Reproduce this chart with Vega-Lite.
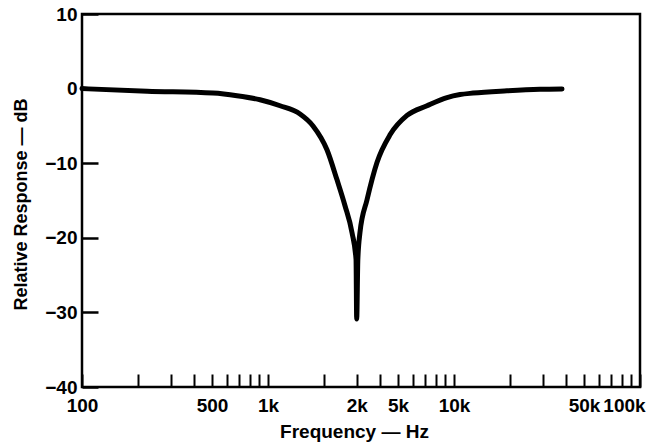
{
  "$schema": "https://vega.github.io/schema/vega-lite/v6.json",
  "width": 558,
  "height": 373,
  "autosize": {"type": "none"},
  "padding": {"left": 82, "top": 14, "right": 23, "bottom": 56},
  "background": "white",
  "config": {
    "view": {"stroke": "black", "strokeWidth": 2.5},
    "axis": {
      "grid": false,
      "domain": false,
      "labelFont": "Liberation Sans",
      "titleFont": "Liberation Sans",
      "labelFontWeight": "bold",
      "titleFontWeight": "bold",
      "labelColor": "black",
      "titleColor": "black",
      "tickColor": "black",
      "labelFontSize": 19,
      "titleFontSize": 18
    }
  },
  "data": {
    "values": [
      {"frequency": 100, "dB": 0.0},
      {"frequency": 224, "dB": -0.35},
      {"frequency": 506, "dB": -0.6},
      {"frequency": 681, "dB": -0.95},
      {"frequency": 906, "dB": -1.5},
      {"frequency": 1161, "dB": -2.3},
      {"frequency": 1486, "dB": -3.4},
      {"frequency": 1746, "dB": -5.0},
      {"frequency": 2075, "dB": -8.2},
      {"frequency": 2348, "dB": -12.2},
      {"frequency": 2594, "dB": -15.7},
      {"frequency": 2829, "dB": -19.3},
      {"frequency": 2974, "dB": -22.9},
      {"frequency": 2998, "dB": -30.9},
      {"frequency": 3040, "dB": -23.0},
      {"frequency": 3122, "dB": -19.3},
      {"frequency": 3407, "dB": -14.9},
      {"frequency": 3854, "dB": -9.9},
      {"frequency": 4528, "dB": -6.2},
      {"frequency": 5589, "dB": -3.6},
      {"frequency": 7161, "dB": -2.3},
      {"frequency": 9170, "dB": -1.2},
      {"frequency": 10770, "dB": -0.8},
      {"frequency": 12650, "dB": -0.6},
      {"frequency": 19270, "dB": -0.3},
      {"frequency": 28990, "dB": -0.1},
      {"frequency": 38090, "dB": -0.05}
    ]
  },
  "mark": {"type": "line", "color": "black", "strokeWidth": 5, "strokeCap": "round", "strokeJoin": "round", "interpolate": "monotone"},
  "encoding": {
    "x": {
      "field": "frequency",
      "type": "quantitative",
      "scale": {"type": "log", "domain": [100, 100000], "nice": false},
      "axis": {
        "values": [100, 200, 300, 400, 500, 600, 700, 800, 900, 1000, 2000, 3000, 4000, 5000, 6000, 7000, 8000, 9000, 10000, 20000, 30000, 40000, 50000, 60000, 70000, 80000, 90000, 100000],
        "tickSize": -13,
        "tickWidth": 2,
        "labelPadding": 22,
        "labelOverlap": false,
        "labelBound": false,
        "labelFlush": false,
        "labelExpr": "datum.value == 100 ? '100' : datum.value == 500 ? '500' : datum.value == 1000 ? '1k' : datum.value == 3000 ? '2k' : datum.value == 5000 ? '5k' : datum.value == 10000 ? '10k' : datum.value == 50000 ? '50k' : datum.value == 100000 ? '100k' : ''",
        "labelOffset": {"condition": {"test": "datum.value == 100000", "value": -16}, "value": 0},
        "title": "Frequency — Hz",
        "titleX": 272,
        "titleY": 50,
        "titleBaseline": "alphabetic",
        "titleFontSize": 19
      }
    },
    "y": {
      "field": "dB",
      "type": "quantitative",
      "scale": {"domain": [-40, 10], "nice": false},
      "axis": {
        "values": [10, 0, -10, -20, -30, -40],
        "tickSize": -16,
        "tickWidth": 2.5,
        "labelPadding": 21,
        "title": "Relative Response — dB",
        "titleX": -61,
        "titleY": 190,
        "titleAngle": -90,
        "titleAlign": "center",
        "titleBaseline": "middle"
      }
    }
  }
}
